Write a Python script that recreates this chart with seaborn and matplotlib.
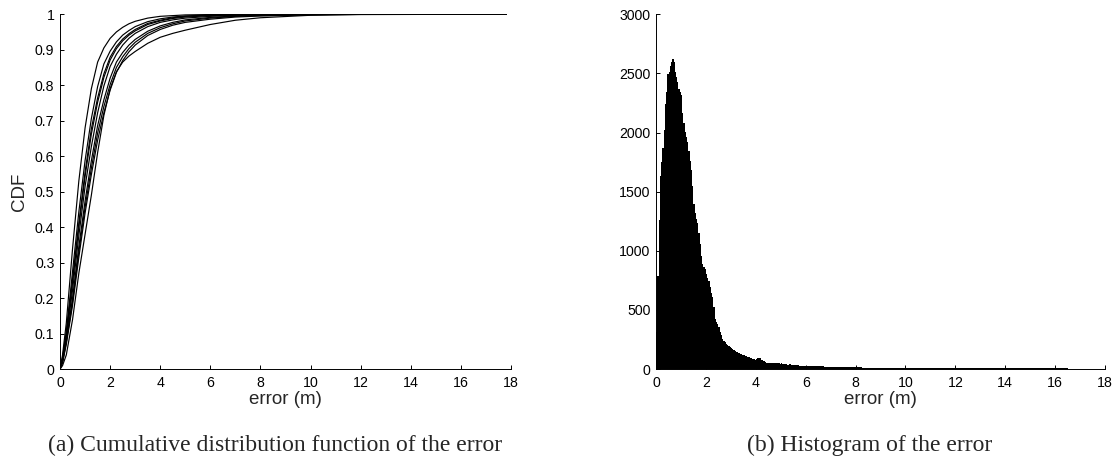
import numpy as np
import pandas as pd
import matplotlib
matplotlib.use('Agg')
import matplotlib.pyplot as plt
import seaborn as sns

# CDF curves (error in m -> CDF)
err_grid = [0, 0.1, 0.25, 0.5, 0.75, 1.0, 1.25, 1.5, 1.75, 2.0, 2.25, 2.5,
            2.75, 3.0, 3.5, 4.0, 4.5, 5.0, 6.0, 7.0, 8.0, 10.0, 12.0, 17.8]
cdf_a = [0, .040, .130, .340, .530, .680, .790, .865, .905, .932, .950, .963,
         .973, .980, .989, .994, .996, .998, .999, 1, 1, 1, 1, 1]
cdf_b = [0, .033, .105, .276, .443, .588, .706, .796, .860, .896, .922, .941,
         .954, .965, .979, .987, .992, .995, .998, .999, .9995, 1, 1, 1]
cdf_c = [0, .028, .100, .253, .412, .556, .677, .764, .832, .879, .909, .930,
         .945, .957, .974, .983, .990, .994, .997, .998, .999, 1, 1, 1]
cdf_d = [0, .026, .095, .245, .400, .543, .662, .752, .822, .871, .903, .925,
         .941, .953, .971, .981, .988, .992, .996, .998, .999, 1, 1, 1]
cdf_e = [0, .025, .090, .223, .376, .515, .627, .722, .798, .853, .887, .913,
         .932, .946, .965, .977, .984, .989, .994, .997, .998, .9995, 1, 1]
cdf_f = [0, .022, .080, .200, .345, .474, .587, .686, .759, .820, .865, .892,
         .913, .929, .952, .967, .977, .984, .991, .995, .997, .999, 1, 1]
cdf_g = [0, .020, .075, .190, .330, .456, .566, .665, .740, .802, .850, .880,
         .903, .921, .946, .962, .973, .981, .989, .994, .996, .999, 1, 1]
cdf_h = [0, .018, .070, .180, .315, .440, .548, .645, .722, .786, .836, .869,
         .894, .913, .940, .957, .969, .977, .986, .992, .995, .998, .9995, 1]
cdf_i = [0, .010, .040, .140, .270, .380, .490, .610, .715, .790, .838, .865,
         .882, .895, .918, .935, .946, .955, .971, .983, .990, .997, .999, 1]
cdf_runs = [cdf_a, cdf_b, cdf_c, cdf_d, cdf_e, cdf_f, cdf_g, cdf_h, cdf_i]

# histogram counts: 0.05 m bins from 0 to 6 m
counts_fine = [313, 790, 1257, 1630, 1750, 1867, 2022, 2245, 2344, 2497,
               2510, 2560, 2600, 2623, 2600, 2512, 2470, 2428, 2371, 2340,
               2316, 2161, 2080, 2008, 1960, 1924, 1840, 1760, 1686, 1546,
               1392, 1320, 1266, 1237, 1150, 1056, 958, 888, 860, 846,
               804, 770, 748, 691, 640, 607, 523, 426, 397, 384,
               355, 313, 286, 258, 235, 229, 210, 205, 195, 187,
               180, 172, 165, 155, 148, 145, 138, 131, 127, 123,
               118, 112, 108, 103, 99, 95, 92, 88, 84, 81,
               85, 92, 95, 90, 80, 76, 70, 62, 56, 55,
               54, 53, 53, 52, 51, 50, 49, 50, 48, 47,
               48, 46, 44, 42, 40, 39, 38, 40, 37, 36,
               35, 34, 33, 34, 32, 30, 29, 28, 29, 27]
# tail: 0.25 m bins from 6 to 18 m
counts_tail = [26, 25, 23, 21, 20, 18, 16, 15, 17, 13, 12, 12,
               11, 11, 10, 10, 10, 9, 10, 9, 9, 9, 10, 9,
               9, 8, 9, 8, 9, 8, 8, 9, 8, 8, 9, 8,
               8, 8, 9, 8, 8, 8, 0, 0, 0, 0, 0, 0]

sns.set_theme(style='ticks')
plt.rcParams['font.family'] = ['Liberation Sans', 'DejaVu Sans']

fig = plt.figure(figsize=(11.18, 4.58), dpi=100)
ax1 = fig.add_axes([0.0537, 0.194, 0.4034, 0.775])
ax2 = fig.add_axes([0.5868, 0.194, 0.4016, 0.775])

# (a) CDF
cdf_df = pd.DataFrame({
    'error': np.tile(err_grid, len(cdf_runs)),
    'cdf': np.concatenate(cdf_runs),
    'run': np.repeat(np.arange(len(cdf_runs)), len(err_grid)),
})
sns.lineplot(data=cdf_df, x='error', y='cdf', units='run', estimator=None,
             color='black', linewidth=0.85, ax=ax1)
ax1.set_xlim(0, 18)
ax1.set_ylim(0, 1)
ax1.set_xticks(range(0, 19, 2))
ax1.set_yticks(np.round(np.arange(0, 1.01, 0.1), 1))
ax1.set_yticklabels(['0', '0.1', '0.2', '0.3', '0.4', '0.5', '0.6', '0.7',
                     '0.8', '0.9', '1'])
ax1.set_xlabel('error (m)', fontsize=13.5, labelpad=1)
ax1.set_ylabel('CDF', fontsize=13.5, labelpad=5)

# (b) histogram
edges = np.round(np.concatenate([np.arange(0, 6, 0.05), np.arange(6, 18.01, 0.25)]), 3)
hist_df = pd.DataFrame({
    'error': (edges[:-1] + edges[1:]) / 2,
    'count': counts_fine + counts_tail,
})
sns.histplot(data=hist_df, x='error', weights='count', bins=list(edges),
             element='step', fill=True, color='black', alpha=1,
             linewidth=0, ax=ax2)
ax2.set_xlim(0, 18)
ax2.set_ylim(0, 3000)
ax2.set_xticks(range(0, 19, 2))
ax2.set_yticks(range(0, 3001, 500))
ax2.set_xlabel('error (m)', fontsize=13.5, labelpad=1)
ax2.set_ylabel('')

for ax in (ax1, ax2):
    sns.despine(ax=ax)
    for s in ('left', 'bottom'):
        ax.spines[s].set_linewidth(0.7)
        ax.spines[s].set_color('black')
    ax.tick_params(direction='in', length=3, width=0.7, labelsize=10.2,
                   colors='black')
    ax.tick_params(axis='x', pad=5)
    ax.tick_params(axis='y', pad=4)
    ax.set_facecolor('white')

fig.text(275 / 1118, 1 - 451 / 458, '(a) Cumulative distribution function of the error',
         ha='center', va='baseline', fontsize=17,
         family=['Liberation Serif', 'DejaVu Serif'])
fig.text(870 / 1118, 1 - 451 / 458, '(b) Histogram of the error',
         ha='center', va='baseline', fontsize=17,
         family=['Liberation Serif', 'DejaVu Serif'])

fig.savefig('out.png', dpi=100, facecolor='white')
